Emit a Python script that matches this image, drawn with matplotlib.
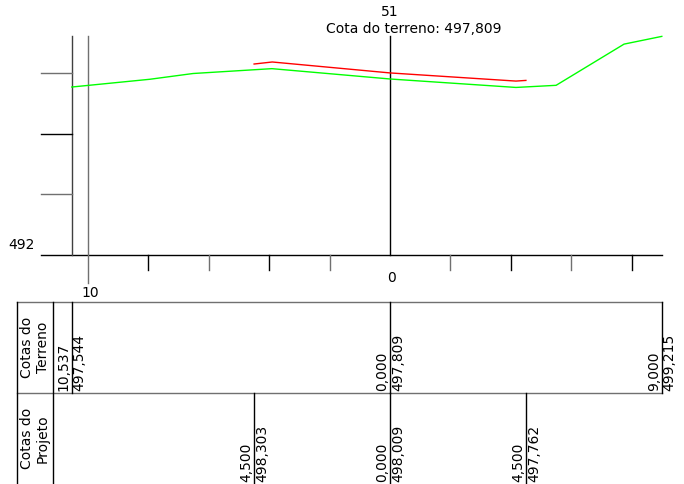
import matplotlib
matplotlib.use('Agg')
import matplotlib.pyplot as plt

# terrain (green) and project (red) section, offset from axis vs elevation
terrain_off = [-10.537, -7.95, -6.52, -3.91, 0.0, 4.17, 5.50, 7.75, 9.0]
terrain_elev = [497.544, 497.80, 497.99, 498.15, 497.809, 497.53, 497.60, 498.96, 499.215]
project_off = [-4.5, -3.9, 0.0, 4.17, 4.5]
project_elev = [498.303, 498.37, 498.009, 497.74, 497.762]

# values written in the table
terrain_tab_off = [-10.537, 0.0, 9.0]
terrain_tab_elev = [497.544, 497.809, 499.215]
project_tab_off = [-4.5, 0.0, 4.5]
project_tab_elev = [498.303, 498.009, 497.762]

station = '51'
station_label = 'Cota do terreno: 497,809'
base_elev = 492
y_ticks = [494, 496, 498]
x_ticks = [-8, -6, -4, -2, 2, 4, 6, 8]
mark_off = -10

W, H = 684, 484
SX, SY = 30.2, 30.3      # px per metre
X0 = 390                 # px of axis
YB = 255                 # px of base line
SPLIT = 300              # px where table area starts
ROW = 91

plt.rcParams['font.family'] = 'DejaVu Sans'
plt.rcParams['font.size'] = 10
GRAY = '#707070'
LW = 1.0

fig = plt.figure(figsize=(W / 100, H / 100), dpi=100)
xlim = (-X0 / SX, (W - X0) / SX)

ax = fig.add_axes([0, (H - SPLIT) / H, 1, SPLIT / H])
ax.set_xlim(*xlim)
ax.set_ylim(base_elev - (SPLIT - YB) / SY, base_elev + YB / SY)
ax.axis('off')

left = min(terrain_off)
right = max(terrain_off)
top = max(terrain_elev)
tick_x0 = left - 31 / SX
tick_len = 15 / SY

# base line + left axis
ax.plot([tick_x0, right], [base_elev, base_elev], color='black', lw=LW)
ax.plot([left, left], [base_elev, top], color='#404040', lw=LW)
for i, t in enumerate(y_ticks):
    ax.plot([tick_x0, left], [t, t], color='black' if i == 1 else GRAY, lw=LW)
for i, t in enumerate(x_ticks):
    c = 'black' if abs(t) % 4 == 0 else GRAY
    ax.plot([t, t], [base_elev, base_elev - tick_len], color=c, lw=LW)

# station -10 mark and axis line
ax.plot([mark_off, mark_off], [base_elev - 28 / SY, top], color=GRAY, lw=LW)
ax.plot([0, 0], [base_elev, top], color='black', lw=LW)

ax.plot(terrain_off, terrain_elev, color='#00ff00', lw=LW)
ax.plot(project_off, project_elev, color='#ff0000', lw=LW)

ax.annotate(station, (0, top), xytext=(0, 24), textcoords='offset pixels',
            ha='center', va='center')
ax.annotate(station_label, (0, top), xytext=(-64, 7), textcoords='offset pixels',
            ha='left', va='center')
ax.annotate(str(base_elev), (tick_x0, base_elev), xytext=(-6, 10), textcoords='offset pixels',
            ha='right', va='center')
ax.annotate(str(abs(mark_off)), (mark_off, base_elev), xytext=(2, -38), textcoords='offset pixels',
            ha='center', va='center')
ax.annotate('0', (0, base_elev), xytext=(1, -23), textcoords='offset pixels',
            ha='center', va='center')

# table
tb = fig.add_axes([0, 0, 1, (H - SPLIT) / H])
tb.set_xlim(*xlim)
tb.set_ylim(0, (H - SPLIT) / ROW)
tb.axis('off')

tab_left = (17 - X0) / SX
head_right = (53 - X0) / SX
tb.plot([tab_left, right], [2, 2], color=GRAY, lw=LW)
tb.plot([tab_left, right], [1, 1], color=GRAY, lw=LW)
tb.plot([tab_left, tab_left], [0, 2], color='black', lw=LW)
tb.plot([head_right, head_right], [0, 2], color='black', lw=LW)
tb.text((tab_left + head_right) / 2, 1.5, 'Cotas do\nTerreno', rotation=90,
        ha='center', va='center', multialignment='center', linespacing=1.1)
tb.text((tab_left + head_right) / 2, 0.5, 'Cotas do\nProjeto', rotation=90,
        ha='center', va='center', multialignment='center', linespacing=1.1)


def fmt(v):
    return f'{v:.3f}'.replace('.', ',')


def column(off, elev, y0, y1):
    tb.plot([off, off], [y0, y1], color='black', lw=LW)
    tb.annotate(fmt(abs(off)), (off, y0), xytext=(-1, 2), textcoords='offset pixels',
                rotation=90, rotation_mode='anchor', ha='left', va='bottom')
    tb.annotate(fmt(elev), (off, y0), xytext=(1, 2), textcoords='offset pixels',
                rotation=90, rotation_mode='anchor', ha='left', va='top')


for o, e in zip(terrain_tab_off, terrain_tab_elev):
    column(o, e, 1, 2)
for o, e in zip(project_tab_off, project_tab_elev):
    column(o, e, 0, 1)

fig.savefig('out.png', dpi=100)
